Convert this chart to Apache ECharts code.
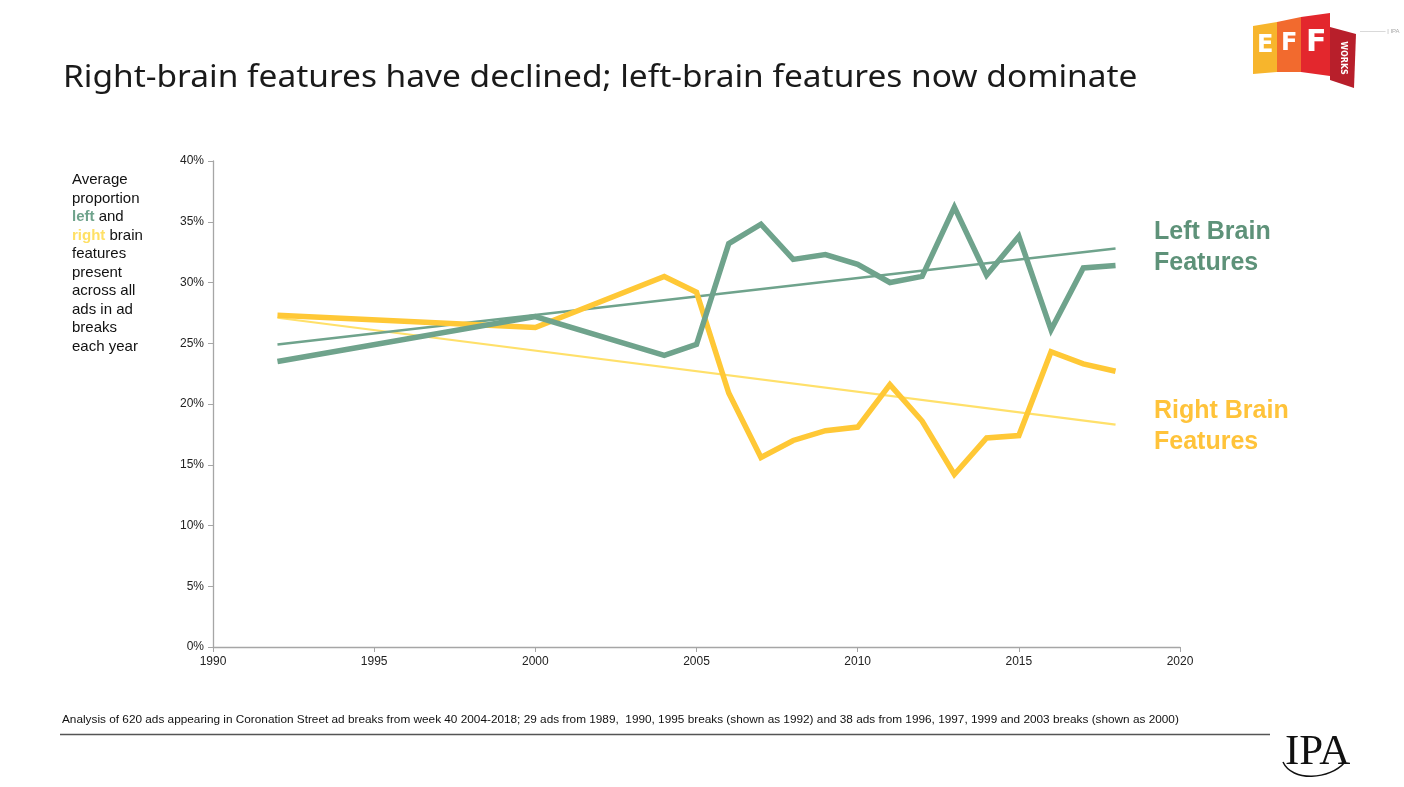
<!DOCTYPE html>
<html>
<head>
<meta charset="utf-8">
<script src="https://cdn.jsdelivr.net/npm/echarts@6/dist/echarts.min.js"></script>
<style>html,body{margin:0;padding:0;background:#fff;}#c{width:1404px;height:787px;}</style>
</head>
<body>
<div id="c"></div>
<script>
const years = [1992, 2000, 2004, 2005, 2006, 2007, 2008, 2009, 2010, 2011, 2012, 2013, 2014, 2015, 2016, 2017, 2018];
const leftBrain = [23.5, 27.2, 24.0, 24.9, 33.2, 34.8, 31.9, 32.3, 31.5, 30.0, 30.5, 36.2, 30.6, 33.8, 26.1, 31.2, 31.4];
const rightBrain = [27.3, 26.3, 30.5, 29.2, 20.9, 15.6, 17.0, 17.8, 18.1, 21.6, 18.6, 14.2, 17.2, 17.4, 24.3, 23.3, 22.7];
const trendYears = [1992, 2018];
const leftTrend = [24.9, 32.8];
const rightTrend = [27.1, 18.3];
const xTicks = [1990, 1995, 2000, 2005, 2010, 2015, 2020];
const yTicks = [0, 5, 10, 15, 20, 25, 30, 35, 40];

const GREEN = '#6FA38C';
const YELLOW = '#FFC836';
const YELLOW_T = '#FFE06A';

const pair = (xs, ys) => xs.map((x, i) => [x, ys[i]]);

const chart = echarts.init(document.getElementById('c'));
chart.setOption({
  animation: false,
  grid: { left: 213, right: 224, top: 161, bottom: 140 },
  xAxis: {
    type: 'value', min: xTicks[0], max: xTicks[xTicks.length - 1], interval: 5,
    axisLine: { lineStyle: { color: '#a6a6a6', width: 1.3 } },
    axisTick: { show: true, length: 5, lineStyle: { color: '#a6a6a6' } },
    axisLabel: { color: '#222', fontFamily: 'Liberation Sans', fontSize: 12, margin: 9, formatter: v => String(v) },
    splitLine: { show: false }
  },
  yAxis: {
    type: 'value', min: yTicks[0], max: yTicks[yTicks.length - 1], interval: 5,
    axisLine: { show: true, lineStyle: { color: '#a6a6a6', width: 1.3 } },
    axisTick: { show: true, length: 5, lineStyle: { color: '#a6a6a6' } },
    axisLabel: { color: '#222', fontFamily: 'Liberation Sans', fontSize: 12, margin: 9, formatter: v => v + '%' },
    splitLine: { show: false }
  },
  series: [
    { type: 'line', data: pair(trendYears, rightTrend), symbol: 'none', lineStyle: { color: YELLOW_T, width: 2.2 }, z: 2 },
    { type: 'line', data: pair(trendYears, leftTrend), symbol: 'none', lineStyle: { color: GREEN, width: 2.5 }, z: 2 },
    { type: 'line', data: pair(years, rightBrain), symbol: 'none', lineStyle: { color: YELLOW, width: 5.5, join: 'miter' }, z: 3 },
    { type: 'line', data: pair(years, leftBrain), symbol: 'none', lineStyle: { color: GREEN, width: 5.5, join: 'miter' }, z: 4 }
  ],
  graphic: [
    { type: 'text', x: 63, y: 78, scaleX: 1.115, style: { text: 'Right-brain features have declined; left-brain features now dominate', fontFamily: 'Noto Sans', fontSize: 30, fill: '#1a1a1a', verticalAlign: 'middle' } },
    { type: 'text', left: 72, top: 171, style: {
      text: 'Average\nproportion\n{g|left} and\n{y|right} brain\nfeatures\npresent\nacross all\nads in ad\nbreaks\neach year',
      fontFamily: 'Liberation Sans', fontSize: 15, lineHeight: 18.5, fill: '#111',
      rich: { g: { fontWeight: 'bold', fill: GREEN, fontFamily: 'Liberation Sans', fontSize: 15, lineHeight: 18.5 },
              y: { fontWeight: 'bold', fill: '#FFE066', fontFamily: 'Liberation Sans', fontSize: 15, lineHeight: 18.5 } }
    } },
    { type: 'text', left: 1154, top: 217, style: { text: 'Left Brain\nFeatures', fontFamily: 'Liberation Sans', fontWeight: 'bold', fontSize: 25, lineHeight: 31, fill: '#5E9279' } },
    { type: 'text', left: 1154, top: 396, style: { text: 'Right Brain\nFeatures', fontFamily: 'Liberation Sans', fontWeight: 'bold', fontSize: 25, lineHeight: 31, fill: '#FFC33A' } },
    { type: 'text', left: 62, top: 714, style: { text: 'Analysis of 620 ads appearing in Coronation Street ad breaks from week 40 2004-2018; 29 ads from 1989,  1990, 1995 breaks (shown as 1992) and 38 ads from 1996, 1997, 1999 and 2003 breaks (shown as 2000)', fontFamily: 'Liberation Sans', fontSize: 11.8, fill: '#111' } },
    { type: 'line', shape: { x1: 60, y1: 734.5, x2: 1270, y2: 734.5 }, style: { stroke: '#555', lineWidth: 1.5 } },
    { type: 'text', left: 1285, top: 731, style: { text: 'IPA', fontFamily: 'Liberation Serif', fontSize: 43, fill: '#111' } },
    { type: 'bezierCurve', shape: { x1: 1283, y1: 762, x2: 1345, y2: 762, cpx1: 1292, cpy1: 782, cpx2: 1330, cpy2: 780 }, style: { stroke: '#111', lineWidth: 1.5, fill: null } },
    // EFF works logo approximation
    { type: 'polygon', shape: { points: [[1253, 26], [1277, 22], [1277, 72], [1253, 74]] }, style: { fill: '#F7B52C' } },
    { type: 'polygon', shape: { points: [[1277, 22], [1301, 17], [1301, 72], [1277, 72]] }, style: { fill: '#F26A2E' } },
    { type: 'polygon', shape: { points: [[1301, 17], [1330, 13], [1330, 76], [1301, 72]] }, style: { fill: '#E3272D' } },
    { type: 'polygon', shape: { points: [[1330, 27], [1356, 34], [1354, 88], [1330, 80]] }, style: { fill: '#B81F2B' } },
    { type: 'text', left: 1257, top: 34, style: { text: 'E', fontFamily: 'DejaVu Sans', fontWeight: 'bold', fontSize: 24, fill: '#fff' } },
    { type: 'text', left: 1281, top: 32, style: { text: 'F', fontFamily: 'DejaVu Sans', fontWeight: 'bold', fontSize: 24, fill: '#fff' } },
    { type: 'text', left: 1306, top: 28, style: { text: 'F', fontFamily: 'DejaVu Sans', fontWeight: 'bold', fontSize: 30, fill: '#fff' } },
    { type: 'text', x: 1343, y: 58, rotation: -Math.PI / 2, style: { text: 'WORKS', fontFamily: 'DejaVu Sans', fontWeight: 'bold', fontSize: 8, fill: '#fff', align: 'center', verticalAlign: 'middle' } },
    { type: 'text', left: 1360, top: 28, style: { text: '────── | IPA', fontFamily: 'Liberation Sans', fontSize: 6, fill: '#aaa' } }
  ]
});
</script>
</body>
</html>
